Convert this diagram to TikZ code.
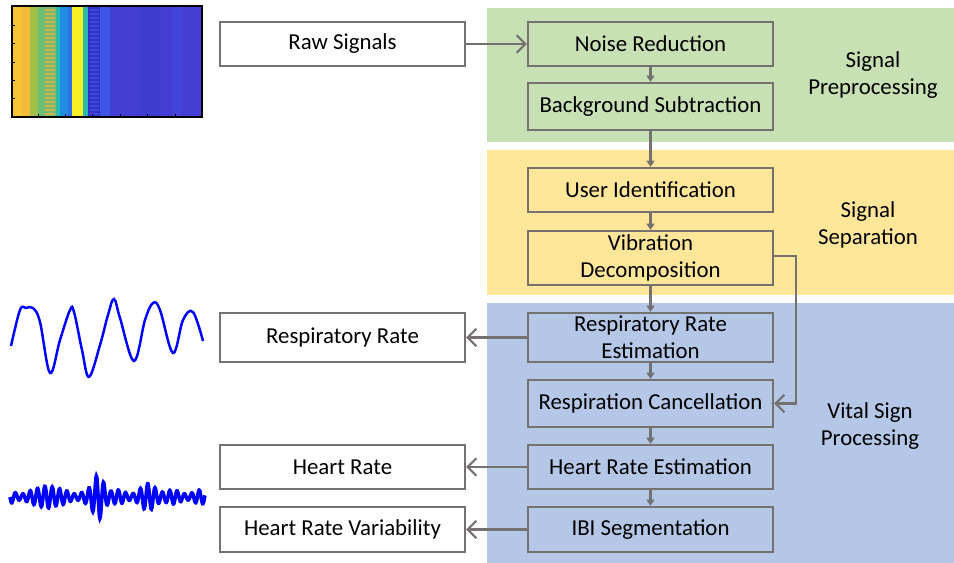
\documentclass[tikz,border=0pt]{standalone}
\usepackage{fontspec}
\setmainfont{Carlito}
\usetikzlibrary{arrows.meta}

\definecolor{edgegray}{RGB}{118,113,113}
\definecolor{prepgreen}{RGB}{199,224,180}
\definecolor{sepyellow}{RGB}{255,230,153}
\definecolor{vitalblue}{RGB}{180,199,231}
% heat map colours
\definecolor{mapblue}{RGB}{66,62,212}
\definecolor{mapdeep}{RGB}{52,50,196}
\definecolor{maplight}{RGB}{62,86,232}
\definecolor{mapgold}{RGB}{248,196,54}
\definecolor{maporange}{RGB}{236,172,62}
\definecolor{maplime}{RGB}{160,194,72}
\definecolor{mapgreen}{RGB}{110,190,118}
\definecolor{mapteal}{RGB}{42,186,172}
\definecolor{mapsky}{RGB}{32,140,226}
\definecolor{mapyellow}{RGB}{246,240,36}

\tikzset{
    stepbox/.style = {draw = edgegray, line width = 1.3pt, minimum width = 4.9cm,
        align = center, font = \fontsize{13}{15.5}\selectfont, inner sep = 1pt},
    outbox/.style = {stepbox, fill = white},
    flow/.style = {draw = edgegray, line width = 1.2pt},
    bigtip/.style = {flow, -{Straight Barb[length = 5pt, width = 10pt, line width = 1.2pt]}},
    smalltip/.style = {flow, -{Triangle[length = 3.5pt, width = 4.5pt]}},
    region/.style = {font = \fontsize{13}{15.5}\selectfont, align = center}
}

\begin{document}
\begin{tikzpicture}[x = 0.02cm, y = -0.02cm]
%\draw [help lines, step = 50] (0,0) grid (954,563);
    \useasboundingbox (0,0) rectangle (954,563);
    % stage backgrounds
    \fill [prepgreen] (487,8) rectangle (954,142);
    \fill [sepyellow] (487,150) rectangle (954,295);
    \fill [vitalblue] (487,303) rectangle (954,563);
    \node [region] (prep) at (873,75) {Signal\\Preprocessing};
    \node [region] (sep) at (868,225) {Signal\\Separation};
    \node [region] (vital) at (870,426) {Vital Sign\\Processing};

    % pipeline
    \node [stepbox, fill = prepgreen, minimum height = 0.88cm] (noise) at (650.5,44) {Noise Reduction};
    \node [stepbox, fill = prepgreen, minimum height = 0.94cm] (bgsub) at (650.5,106.5) {Background Subtraction};
    \node [stepbox, fill = sepyellow, minimum height = 0.88cm] (userid) at (650.5,190) {User Identification};
    \node [stepbox, fill = sepyellow, minimum height = 1.08cm] (vibdec) at (650.5,258) {Vibration\\Decomposition};
    \node [stepbox, fill = vitalblue, minimum height = 0.98cm] (rrest) at (650.5,337.5) {Respiratory Rate\\Estimation};
    \node [stepbox, fill = vitalblue, minimum height = 0.94cm] (rcanc) at (650.5,403.5) {Respiration Cancellation};
    \node [stepbox, fill = vitalblue, minimum height = 0.88cm] (hrest) at (650.5,467) {Heart Rate Estimation};
    \node [stepbox, fill = vitalblue, minimum height = 0.9cm] (ibi) at (650.5,529.5) {IBI Segmentation};

    % inputs and outputs
    \node [outbox, minimum height = 0.88cm] (raw) at (342.5,44) {Raw Signals};
    \node [outbox, minimum height = 0.98cm] (rr) at (342.5,337.5) {Respiratory Rate};
    \node [outbox, minimum height = 0.88cm] (hr) at (342.5,467) {Heart Rate};
    \node [outbox, minimum height = 0.9cm] (hrv) at (342.5,529.5) {Heart Rate Variability};

    \draw [bigtip] (raw) -- (noise);
    \draw [smalltip] (noise) -- (bgsub);
    \draw [smalltip] (bgsub) -- (userid);
    \draw [smalltip] (userid) -- (vibdec);
    \draw [smalltip] (vibdec) -- (rrest);
    \draw [smalltip] (rrest) -- (rcanc);
    \draw [smalltip] (rcanc) -- (hrest);
    \draw [smalltip] (hrest) -- (ibi);
    \draw [bigtip] ([yshift = 0.04cm] vibdec.east) -- ++(22,0) |- (rcanc.east);
    \draw [bigtip] (rrest) -- (rr);
    \draw [bigtip] (hrest) -- (hr);
    \draw [bigtip] (ibi) -- (hrv);

    % raw signal heat map
    \begin{scope}
        \clip (12,6) rectangle (202,117);
        \fill [mapblue] (12,6) rectangle (202,117);
        \fill [mapgold] (12,6) rectangle (22,117);
        \fill [mapgold!60!maporange] (22,6) rectangle (30,117);
        \fill [maplime] (30,6) rectangle (38,117);
        \fill [mapgreen] (38,6) rectangle (56,117);
        \foreach \y in {9,13,...,116}
            \fill [maporange!80!mapgreen] (45,\y) rectangle (55,\y+2);
        \fill [mapteal] (56,6) rectangle (60,117);
        \fill [mapsky] (60,6) rectangle (68,117);
        \fill [mapsky!50!maplight] (68,6) rectangle (72,117);
        \fill [mapyellow] (72,6) rectangle (83,117);
        \fill [mapteal] (83,6) rectangle (88,117);
        \fill [mapdeep] (88,6) rectangle (100,117);
        \foreach \y in {9,13,...,116}
            \fill [maplight!70!mapdeep] (90,\y) rectangle (99,\y+2);
        \fill [maplight] (100,6) rectangle (110,117);
        \fill [mapblue!80!mapdeep] (140,6) rectangle (160,117);
        \fill [mapblue!70!maplight] (172,6) rectangle (182,117);
    \end{scope}
    \draw [line width = 1.3pt] (12,6) rectangle (202,117);
    \foreach \y in {25,43,62,80,98}
        \draw [line width = 0.4pt] (12,\y) -- (15,\y);
    \foreach \x in {38,65,92,120,147,175}
        \draw [line width = 0.4pt] (\x,117) -- (\x,114);

    % respiration waveform
    \draw [blue, line width = 1.4pt] plot [smooth, tension = 0.6] coordinates {
        (11,346) (20,310) (26,308) (33,308) (40,322) (50,373) (60,340) (70,310) (74,312)
        (82,350) (89,377) (100,345) (108,315) (114,299) (120,318) (134,361)
        (145,320) (153,303) (160,310) (173,353) (183,320) (193,312) (203,341)};

    % heartbeat waveform
    \draw [blue, line width = 2pt] plot [domain = 10:205, samples = 500]
        (\x, {497 + (5 + 2*sin(13*\x) + 8*exp(-min(((\x-48)/9)^2, 10)) + 18*exp(-min(((\x-99)/7)^2, 10))
        + 7*exp(-min(((\x-150)/10)^2, 10))) * sin(49*(\x-10))});
\end{tikzpicture}
\end{document}
